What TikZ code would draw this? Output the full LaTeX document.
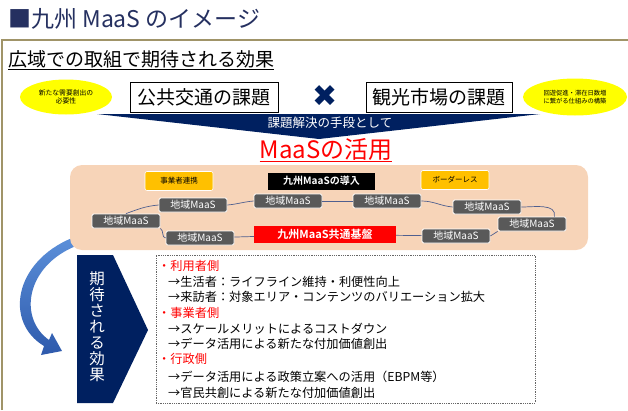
\documentclass[tikz,border=0pt]{standalone}
\usepackage{fontspec}
\setmainfont{Noto Sans CJK JP}[BoldFont={Noto Sans CJK JP Bold}]
\newfontfamily\symfont{DejaVu Sans}
\usetikzlibrary{arrows.meta,positioning,shapes.geometric}
\definecolor{Navy}{HTML}{002060}
\definecolor{Title}{HTML}{253060}
\definecolor{Frame}{HTML}{A09468}
\definecolor{Peach}{HTML}{F7D4B8}
\definecolor{Amber}{HTML}{FFC000}
\definecolor{Slate}{HTML}{595959}
\definecolor{Link}{HTML}{4F5F8F}
\definecolor{Hot}{HTML}{FF0000}
\definecolor{SkyTop}{HTML}{5B8FD9}
\definecolor{SkyLow}{HTML}{2E5AAC}
\definecolor{Lemon}{HTML}{FFFF00}

\begin{document}
\begin{tikzpicture}[x=1pt,y=-1pt,
  issue/.style={draw=black,line width=1pt,minimum height=30pt,inner sep=2pt,font=\fontsize{19}{19}\selectfont},
  bubble/.style={ellipse,fill=Lemon,inner sep=0pt,align=center,font=\fontsize{6.8}{8.5}\selectfont},
  tag/.style={fill=Amber,draw=white,line width=0.6pt,rounded corners=2pt,minimum width=68pt,minimum height=19pt,inner sep=0pt,font=\fontsize{7.5}{8}\selectfont},
  area/.style={fill=Slate,draw=white,line width=0.8pt,rounded corners=1.5pt,minimum width=68pt,minimum height=14pt,inner sep=0pt,text=white,font=\fontsize{10}{10}\selectfont},
  link/.style={Link,line width=0.7pt},
  item/.style={anchor=west,inner sep=0pt,font=\fontsize{12.2}{12.2}\selectfont},
  head/.style={item,text=Hot}]
  \useasboundingbox (0,0) rectangle (628,410);
  % title and frame
  \node[anchor=west,inner sep=0pt,text=Title,font=\fontsize{23}{23}\selectfont] (title) at (8,19) {■九州 MaaS のイメージ};
  \draw[Frame,line width=2.5pt] (2,410) -- (2,40) -- (628,40);
  \node[anchor=west,inner sep=0pt,font=\fontsize{19}{19}\selectfont] (goal) at (8,60) {\underline{広域での取組で期待される効果}};
  % the two issues
  \node[bubble,minimum width=92pt,minimum height=35pt] (needL) at (66,97) {新たな需要創出の\\必要性};
  \node[issue,minimum width=148pt] (transit) at (204,97) {公共交通の課題};
  \node[inner sep=0pt,text=Navy,font=\symfont\fontsize{30}{30}\selectfont] (cross) at (325,96) {✖};
  \node[issue,minimum width=146pt] (tour) at (439,97) {観光市場の課題};
  \node[bubble,minimum width=104pt,minimum height=37pt,font=\fontsize{6.3}{8}\selectfont] (needR) at (575,97) {回遊促進・滞在日数増\\に繋がる仕組みの構築};
  % band
  \fill[Navy] (97,114) -- (540,114) -- (319,139) -- cycle;
  \node[inner sep=0pt,text=white,font=\fontsize{12.5}{12.5}\selectfont] (means) at (330,123) {課題解決の手段として};
  \node[inner sep=0pt,text=Hot,font=\fontsize{24}{24}\selectfont] (use) at (326,150) {\underline{MaaSの活用}};
  % curved arrow, its top hidden under the panel
  \shade[top color=SkyTop,bottom color=SkyLow] (72,238) .. controls (14,262) and (4,322) .. (44,346)
    -- (41,355) -- (62,351) -- (52,333) -- (49,340) .. controls (18,318) and (26,266) .. (76,246) -- cycle;
  % MaaS ring
  \node[fill=Peach,rounded corners=12pt,minimum width=518pt,minimum height=85pt] (panel) at (329,207.5) {};
  \node[tag] (coop) at (179,181) {事業者連携};
  \node[fill=black,minimum width=107pt,minimum height=17pt,inner sep=0pt,text=white,font=\bfseries\fontsize{10}{10}\selectfont] (intro) at (321.5,181) {九州MaaSの導入};
  \node[tag] (free) at (455,180) {ボーダーレス};
  \node[area] (r1) at (193,205) {地域MaaS};
  \node[area] (r2) at (288,201) {地域MaaS};
  \node[area] (r3) at (387,201) {地域MaaS};
  \node[area] (r4) at (487,207) {地域MaaS};
  \node[area] (r5) at (532,224) {地域MaaS};
  \node[area] (r6) at (456,236) {地域MaaS};
  \node[area] (r7) at (200,238) {地域MaaS};
  \node[area] (r8) at (126,221) {地域MaaS};
  \node[fill=Hot,minimum width=142pt,minimum height=17pt,inner sep=0pt,text=white,font=\bfseries\fontsize{11}{11}\selectfont] (base) at (325,234.5) {九州MaaS共通基盤};
  \draw[link] (r8.north) to[out=20,in=185] (r1.west);
  \draw[link] (r1.east) to[out=5,in=185] (r2.west);
  \draw[link] (r2) -- (r3);
  \draw[link] (r3.east) to[out=0,in=175] (r4.west);
  \draw[link] (r4.east) to[out=0,in=80] ([xshift=-12pt]r5.north east);
  \draw[link] (r5.south west) -- (r6.east);
  \draw[link] (r6) -- (base);
  \draw[link] (base) -- (r7);
  \draw[link] (r7.west) to[out=175,in=-30] (r8.south east);
  % expected effects
  \fill[Navy] (77,255) -- (113,255) -- (148,330) -- (113,403) -- (77,403) -- cycle;
  \node[inner sep=0pt,align=center,text=white,font=\fontsize{15.5}{16}\selectfont] (effect) at (97,327) {期\\待\\さ\\れ\\る\\効\\果};
  \node[draw=gray!80!black,densely dotted,line width=0.8pt,minimum width=379pt,minimum height=148pt] (list) at (345.5,329) {};
  \node[head] (user) at (158,266) {・利用者側};
  \node[item] (u1) at (168,282) {→生活者：ライフライン維持・利便性向上};
  \node[item] (u2) at (168,297) {→来訪者：対象エリア・コンテンツのバリエーション拡大};
  \node[head] (biz) at (158,313) {・事業者側};
  \node[item] (b1) at (168,329) {→スケールメリットによるコストダウン};
  \node[item] (b2) at (168,344) {→データ活用による新たな付加価値創出};
  \node[head] (gov) at (158,359) {・行政側};
  \node[item] (g1) at (168,377) {→データ活用による政策立案への活用（EBPM等）};
  \node[item] (g2) at (168,393) {→官民共創による新たな付加価値創出};
\end{tikzpicture}
\end{document}
